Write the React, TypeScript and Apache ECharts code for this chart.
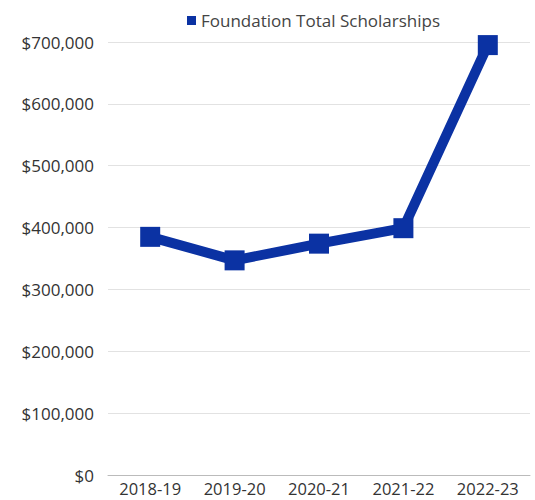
import React, { useEffect, useRef } from "react";
import * as echarts from "echarts";

const categories = ["2018-19", "2019-20", "2020-21", "2021-22", "2022-23"];
const scholarships = [385000, 347000, 374000, 399000, 695000];
const seriesName = "Foundation Total Scholarships";

export default function App() {
  const ref = useRef<HTMLDivElement>(null);
  useEffect(() => {
    const chart = echarts.init(ref.current!, null, { renderer: "svg" });
    chart.setOption({
      animation: false,
      textStyle: { fontFamily: "Open Sans" },
      legend: {
        top: 7,
        left: 182,
        itemWidth: 9,
        itemHeight: 9,
        icon: "rect",
        itemGap: 8,
        textStyle: { fontSize: 17, color: "#444", fontFamily: "Open Sans" },
        data: [seriesName],
      },
      grid: { left: 108, right: 5, top: 42, bottom: 25 },
      xAxis: {
        type: "category",
        data: categories,
        boundaryGap: true,
        axisTick: { show: false },
        axisLine: { show: true, lineStyle: { color: "#bbb", width: 1 } },
        axisLabel: { fontSize: 16.5, color: "#333", margin: 5 },
      },
      yAxis: {
        type: "value",
        min: 0,
        max: 700000,
        interval: 100000,
        axisLabel: {
          fontSize: 17,
          color: "#333",
          margin: 14,
          formatter: (v: number) => "$" + v.toLocaleString("en-US"),
        },
        splitLine: { lineStyle: { color: "#e2e2e2", width: 1 } },
        axisLine: { show: false },
        axisTick: { show: false },
      },
      series: [
        {
          name: seriesName,
          type: "line",
          data: scholarships,
          symbol: "rect",
          symbolSize: 20,
          lineStyle: { color: "#0b32a3", width: 10 },
          itemStyle: { color: "#0b32a3" },
        },
      ],
    });
    return () => chart.dispose();
  }, []);
  return <div ref={ref} style={{ width: 535, height: 500, position: "absolute", left: 0, top: 0, background: "#fff" }} />;
}
